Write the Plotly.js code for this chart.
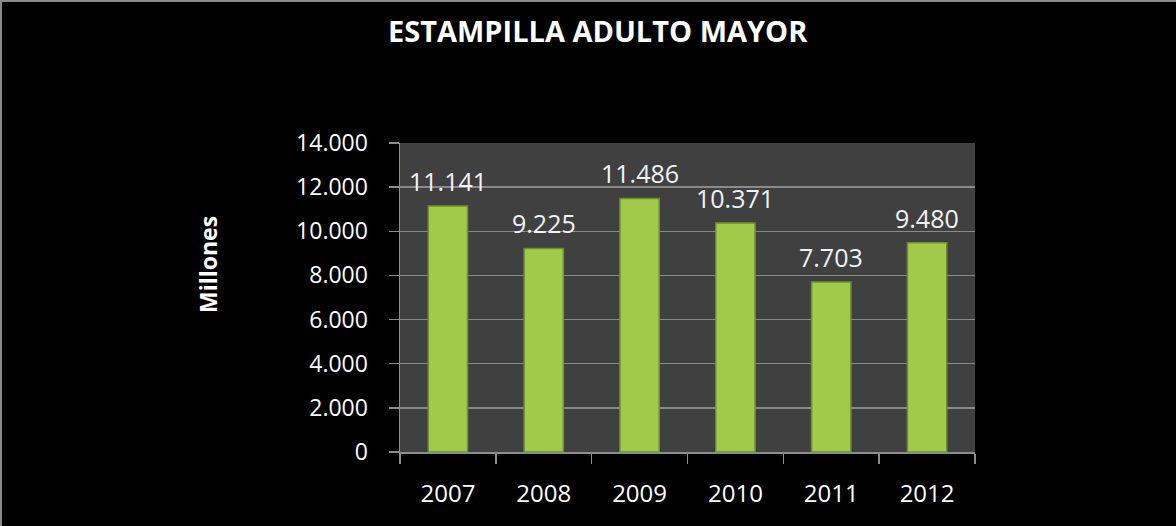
<!DOCTYPE html>
<html>
<head>
<meta charset="utf-8">
<script src="https://cdn.plot.ly/plotly-3.0.1.min.js"></script>
<style>
html,body{margin:0;padding:0;background:#000;}
#chart{width:1176px;height:526px;}
#edge{position:absolute;left:0;top:0;width:1176px;height:526px;border-top:2px solid #8a8a8a;border-left:2px solid #8a8a8a;box-sizing:border-box;pointer-events:none;}
</style>
</head>
<body>
<div id="chart"></div>
<div id="edge"></div>
<script>
const years = ['2007', '2008', '2009', '2010', '2011', '2012'];
const values = [11141, 9225, 11486, 10371, 7703, 9480];
const yTicks = [0, 2000, 4000, 6000, 8000, 10000, 12000, 14000];
const titleText = 'ESTAMPILLA ADULTO MAYOR';
const yTitle = 'Millones';

const fmt = v => v.toLocaleString('de-DE');

const trace = {
  type: 'bar',
  x: years,
  y: values,
  marker: {color: '#a0cb4a', line: {color: '#6e8f2c', width: 1.5}},
  hoverinfo: 'skip'
};

const valueLabels = years.map((yr, i) => ({
  x: i, y: values[i], xref: 'x', yref: 'y',
  text: fmt(values[i]), showarrow: false,
  yanchor: 'bottom', yshift: 6,
  font: {family: 'Open Sans', size: 25, color: '#f0f3f8'}
}));

const layout = {
  width: 1176, height: 526,
  paper_bgcolor: '#000000',
  plot_bgcolor: '#404040',
  margin: {l: 400, r: 201, t: 143, b: 74},
  separators: ',.',
  bargap: 0.59,
  showlegend: false,
  font: {family: 'Open Sans', color: '#ffffff'},
  xaxis: {
    type: 'category',
    range: [-0.5, years.length - 0.5],
    autorange: false,
    tickson: 'boundaries',
    ticks: 'outside', ticklen: 10, tickcolor: '#8c8c8c', tickwidth: 1.5,
    showline: true, linecolor: '#8c8c8c', linewidth: 1.5,
    showgrid: false,
    ticklabelstandoff: 20,
    tickfont: {family: 'Open Sans', size: 24, color: '#ffffff'}
  },
  yaxis: {
    range: [0, 14000],
    autorange: false,
    tickvals: yTicks,
    ticktext: yTicks.map(fmt),
    ticks: 'outside', ticklen: 10, tickcolor: '#8c8c8c', tickwidth: 1.5,
    showline: true, linecolor: '#8c8c8c', linewidth: 1.5,
    showgrid: true, gridcolor: '#8a8a8a', gridwidth: 1.5,
    zeroline: false,
    ticklabelstandoff: 16,
    tickfont: {family: 'Open Sans', size: 23, color: '#ffffff'}
  },
  annotations: valueLabels.concat([
    {text: '<b>' + titleText + '</b>', xref: 'paper', yref: 'paper',
     x: (598 - 400) / 575, y: (452 - 30) / 309, xanchor: 'center', yanchor: 'middle',
     showarrow: false, font: {family: 'Open Sans', size: 29, color: '#ffffff'}},
    {text: '<b>' + yTitle + '</b>', xref: 'paper', yref: 'paper',
     x: (208 - 400) / 575, y: (452 - 264) / 309, xanchor: 'center', yanchor: 'middle',
     textangle: -90, showarrow: false,
     font: {family: 'Open Sans', size: 23, color: '#ffffff'}}
  ])
};

Plotly.newPlot('chart', [trace], layout, {displayModeBar: false, staticPlot: true});
</script>
</body>
</html>
